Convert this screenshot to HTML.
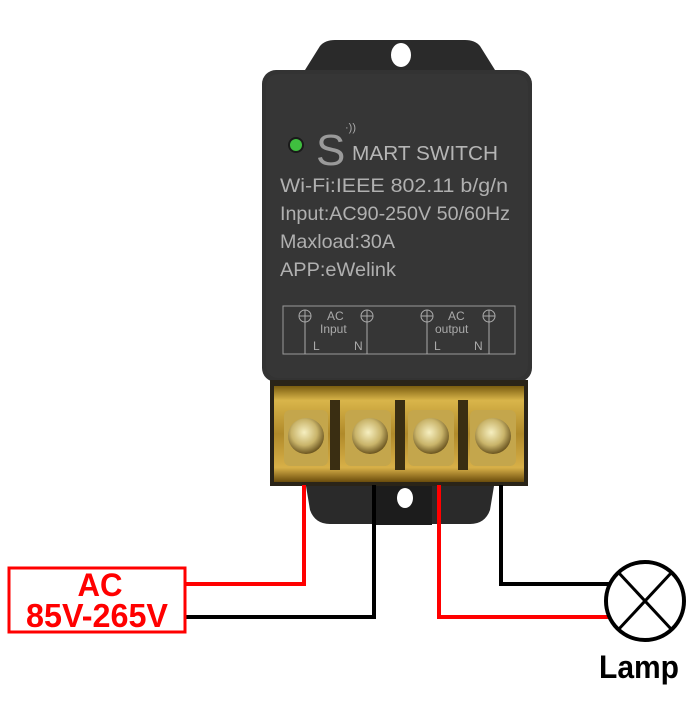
<!DOCTYPE html>
<html><head><style>
body{margin:0;width:700px;height:700px;background:#fff;overflow:hidden;position:relative;font-family:"Liberation Sans",sans-serif}
</style></head><body>
<svg width="700" height="700" viewBox="0 0 700 700" xmlns="http://www.w3.org/2000/svg">
<defs>
<radialGradient id="scr" cx="45%" cy="40%" r="60%"><stop offset="0" stop-color="#f6efc0"/><stop offset="0.6" stop-color="#c9b46a"/><stop offset="1" stop-color="#6b5520"/></radialGradient>
<linearGradient id="gold" x1="0" y1="0" x2="0" y2="1"><stop offset="0" stop-color="#7a5d10"/><stop offset="0.15" stop-color="#d9b54a"/><stop offset="0.5" stop-color="#b08a2a"/><stop offset="0.85" stop-color="#d8b048"/><stop offset="1" stop-color="#6a4c0c"/></linearGradient>
</defs>
<path d="M305 70 L320 46 Q325 40 335 40 L465 40 Q475 40 480 46 L495 70 Z" fill="#2a2a2a"/>
<ellipse cx="401" cy="55" rx="10" ry="12" fill="#fff"/>
<path d="M305 480 L495 480 L490 510 Q485 524 470 524 L330 524 Q315 524 310 510 Z" fill="#2a2a2a"/>
<rect x="372" y="483" width="60" height="42" fill="#1c1c1c"/>
<ellipse cx="405" cy="498" rx="8" ry="10" fill="#fff"/>
<rect x="262" y="70" width="270" height="312" rx="14" fill="#333"/>
<rect x="266" y="74" width="262" height="304" rx="12" fill="#363636"/>
<rect x="270" y="380" width="258" height="106" fill="#2a2418"/>
<rect x="274" y="386" width="250" height="96" fill="url(#gold)"/>
<g fill="#3a2e12">
<rect x="330" y="400" width="10" height="70"/><rect x="395" y="400" width="10" height="70"/><rect x="458" y="400" width="10" height="70"/>
</g>
<g>
<rect x="284" y="410" width="44" height="56" rx="6" fill="#c4a64c"/>
<rect x="345" y="410" width="46" height="56" rx="6" fill="#c4a64c"/>
<rect x="408" y="410" width="46" height="56" rx="6" fill="#c4a64c"/>
<rect x="470" y="410" width="46" height="56" rx="6" fill="#c4a64c"/>
<circle cx="306" cy="436" r="18" fill="url(#scr)"/>
<circle cx="370" cy="436" r="18" fill="url(#scr)"/>
<circle cx="431" cy="436" r="18" fill="url(#scr)"/>
<circle cx="493" cy="436" r="18" fill="url(#scr)"/>
</g>
<circle cx="296" cy="145" r="8" fill="#1a1a1a"/>
<circle cx="296" cy="145" r="6" fill="#3fbf3f"/>
<text x="316" y="165" font-size="44" fill="#9a9a9a">S</text>
<text x="345" y="131" font-size="11" fill="#aaa">·))</text>
<text x="352" y="160" font-size="20" fill="#b5b5b5" textLength="146" lengthAdjust="spacingAndGlyphs">MART SWITCH</text>
<g font-size="19.5" fill="#b0b0b0">
<text x="280" y="192" textLength="228" lengthAdjust="spacingAndGlyphs">Wi-Fi:IEEE 802.11 b/g/n</text>
<text x="280" y="220" textLength="230" lengthAdjust="spacingAndGlyphs">Input:AC90-250V 50/60Hz</text>
<text x="280" y="248" textLength="115" lengthAdjust="spacingAndGlyphs">Maxload:30A</text>
<text x="280" y="276" textLength="116" lengthAdjust="spacingAndGlyphs">APP:eWelink</text>
</g>
<rect x="283" y="306" width="232" height="48" fill="none" stroke="#999" stroke-width="1"/>
<g stroke="#aaa" fill="none" stroke-width="1">
<circle cx="305" cy="316" r="6"/><line x1="299" y1="316" x2="311" y2="316"/><line x1="305" y1="310" x2="305" y2="354"/>
<circle cx="367" cy="316" r="6"/><line x1="361" y1="316" x2="373" y2="316"/><line x1="367" y1="310" x2="367" y2="354"/>
<circle cx="427" cy="316" r="6"/><line x1="421" y1="316" x2="433" y2="316"/><line x1="427" y1="310" x2="427" y2="354"/>
<circle cx="489" cy="316" r="6"/><line x1="483" y1="316" x2="495" y2="316"/><line x1="489" y1="310" x2="489" y2="354"/>
</g>
<g font-size="12" fill="#aaa">
<text x="327" y="320">AC</text><text x="320" y="333">Input</text>
<text x="313" y="350">L</text><text x="354" y="350">N</text>
<text x="448" y="320">AC</text><text x="435" y="333">output</text>
<text x="434" y="350">L</text><text x="474" y="350">N</text>
</g>
<g fill="none" stroke-width="4">
<polyline points="304,485 304,584 186,584" stroke="#f00"/>
<polyline points="374,485 374,617 186,617" stroke="#000"/>
<polyline points="439,485 439,617 612,617" stroke="#f00"/>
<polyline points="501,485 501,584 610,584" stroke="#000"/>
</g>
<rect x="9" y="568" width="176" height="64" fill="#fff" stroke="#f00" stroke-width="3"/>
<text x="100" y="596" font-size="32" font-weight="bold" fill="#f00" text-anchor="middle" textLength="45" lengthAdjust="spacingAndGlyphs">AC</text>
<text x="97" y="627" font-size="33" font-weight="bold" fill="#f00" text-anchor="middle" textLength="142" lengthAdjust="spacingAndGlyphs">85V-265V</text>
<circle cx="645" cy="601" r="39" fill="#fff" stroke="#000" stroke-width="4"/>
<line x1="618" y1="572" x2="672" y2="630" stroke="#000" stroke-width="3"/>
<line x1="672" y1="572" x2="618" y2="630" stroke="#000" stroke-width="3"/>
<text x="639" y="678" font-size="32" font-weight="bold" fill="#000" text-anchor="middle" textLength="80" lengthAdjust="spacingAndGlyphs">Lamp</text>
</svg>
</body></html>
